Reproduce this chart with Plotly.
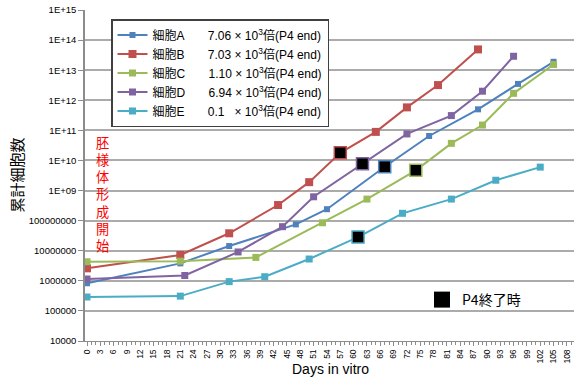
import plotly.graph_objects as go

# ---- data ----
series_names = ["細胞A", "細胞B", "細胞C", "細胞D", "細胞E"]
ratio_labels = ["7.06 × 10<sup>3</sup>倍(P4 end)",
                "7.03 × 10<sup>3</sup>倍(P4 end)",
                "1.10 × 10<sup>3</sup>倍(P4 end)",
                "6.94 × 10<sup>3</sup>倍(P4 end)",
                "0.1\u00a0\u00a0 × 10<sup>3</sup>倍(P4 end)"]

days_A = [0, 21, 32, 47, 54, 67, 77, 88, 97, 105]
vals_A = [8.3e5, 3.8e6, 1.43e7, 7.5e7, 2.4e8, 6.2e9, 6.5e10, 5.0e11, 3.5e12, 1.9e13]
days_B = [0, 21, 32, 43, 50, 57, 65, 72, 79, 88]
vals_B = [2.6e6, 7.2e6, 3.8e7, 3.3e8, 1.9e9, 1.8e10, 8.9e10, 5.8e11, 3.2e12, 4.9e13]
days_C = [0, 21, 38, 53, 63, 74, 82, 89, 96, 105]
vals_C = [4.3e6, 4.5e6, 6.0e6, 8.5e7, 5.2e8, 4.7e9, 3.7e10, 1.5e11, 1.7e12, 1.55e13]
days_D = [0, 22, 34, 44, 51, 62, 72, 82, 89, 96]
vals_D = [1.15e6, 1.5e6, 9.1e6, 6.3e7, 6.2e8, 7.8e9, 7.6e10, 3.1e11, 2.0e12, 2.9e13]
days_E = [0, 21, 32, 40, 50, 61, 71, 82, 92, 102]
vals_E = [2.9e5, 3.1e5, 9.4e5, 1.37e6, 5.3e6, 2.85e7, 1.75e8, 5.2e8, 2.2e9, 6.0e9]

# index of the P4-end point in each series
p4_index = [5, 5, 5, 5, 5]
p4_label = "P4終了時"

y_tickvals = [1e4, 1e5, 1e6, 1e7, 1e8, 1e9, 1e10, 1e11, 1e12, 1e13, 1e14, 1e15]
y_ticktext = ["10000", "100000", "1000000", "10000000", "100000000",
              "1E+09", "1E+10", "1E+11", "1E+12", "1E+13", "1E+14", "1E+15"]
x_tickvals = list(range(0, 109, 3))
x_ticktext = [str(v) for v in x_tickvals]

annotation_text = "胚様体形成開始"
x_title = "Days in vitro"
y_title = "累計細胞数"

# ---- styles ----
colors = ["#4F81BD", "#C0504D", "#9BBB59", "#8064A2", "#4BACC6"]
msizes = [6, 8, 7, 7, 7]
FONT = "Liberation Sans, Arial, Noto Sans CJK JP, sans-serif"
JFONT = "Noto Sans CJK JP, sans-serif"

all_days = [days_A, days_B, days_C, days_D, days_E]
all_vals = [vals_A, vals_B, vals_C, vals_D, vals_E]

fig = go.Figure()
for name, lab, d, v, c, ms in zip(series_names, ratio_labels, all_days, all_vals, colors, msizes):
    fig.add_trace(go.Scatter(
        x=d, y=v, mode="lines+markers",
        name=name + "\u00a0" * 7 + lab,
        line=dict(color=c, width=2),
        marker=dict(symbol="square", size=ms, color=c),
    ))

# P4 end markers
p4x = [d[i] for d, i in zip(all_days, p4_index)]
p4y = [v[i] for v, i in zip(all_vals, p4_index)]
fig.add_trace(go.Scatter(
    x=p4x, y=p4y, mode="markers", showlegend=False,
    marker=dict(symbol="square", size=12, color="black",
                line=dict(color=colors, width=1.5)),
))
# legend entry for P4 end
fig.add_trace(go.Scatter(
    x=[None], y=[None], mode="markers", name=p4_label, legend="legend2",
    marker=dict(symbol="square", size=17, color="black"),
))

L, R, T, B = 85, 1, 10, 38
W, H = 575, 379
pw, ph = W - L - R, H - T - B

def px2paper(xp, yp):
    return (xp - L) / pw, (H - B - yp) / ph

# vertical red annotation (one character per line)
ax, ay = px2paper(102.5, 193.5)
fig.add_annotation(x=ax, y=ay, xref="paper", yref="paper",
                   text="<br>".join(list(annotation_text)),
                   showarrow=False, font=dict(family=JFONT, size=13.2, color="red"),
                   xanchor="center", yanchor="middle", align="center")

# axis titles
tx, ty = px2paper(16, 175.5)
fig.add_annotation(x=tx, y=ty, xref="paper", yref="paper", text=y_title,
                   textangle=-90, showarrow=False,
                   font=dict(family=JFONT, size=15, color="black"),
                   xanchor="center", yanchor="middle")
tx, ty = px2paper(330, 369)
fig.add_annotation(x=tx, y=ty, xref="paper", yref="paper", text=x_title,
                   showarrow=False, font=dict(family=FONT, size=14, color="black"),
                   xanchor="center", yanchor="middle")

lx, ly = px2paper(111, 19)
l2x, l2y = px2paper(422, 300)

fig.update_layout(
    width=W, height=H,
    margin=dict(l=L, r=R, t=T, b=B),
    paper_bgcolor="white", plot_bgcolor="white",
    font=dict(family=FONT, color="black"),
    showlegend=True,
    legend=dict(x=lx, y=ly, xanchor="left", yanchor="top",
                bordercolor="#404040", borderwidth=1.5, bgcolor="white",
                font=dict(family=FONT, size=12), tracegroupgap=0),
    legend2=dict(x=l2x, y=l2y, xanchor="left", yanchor="middle",
                 bgcolor="rgba(0,0,0,0)", borderwidth=0,
                 font=dict(family=JFONT, size=14)),
    xaxis=dict(range=[-0.45, 109.6], tickmode="array", tickvals=x_tickvals,
               ticktext=x_ticktext, tickangle=-90, tickfont=dict(size=8.5),
               ticks="outside", ticklen=4, tickcolor="#8c8c8c",
               minor=dict(dtick=1, ticks="outside", ticklen=3, tickcolor="#8c8c8c", showgrid=False),
               showgrid=False, zeroline=False, automargin=False,
               showline=True, linecolor="#8c8c8c", linewidth=1),
    yaxis=dict(type="log", range=[4, 15], tickmode="array", tickvals=y_tickvals,
               ticktext=y_ticktext, tickfont=dict(size=9.5),
               ticks="outside", ticklen=5, tickcolor="#8c8c8c", automargin=False,
               showgrid=True, gridcolor="#ababab", gridwidth=1.5,
               showline=True, linecolor="#8c8c8c", linewidth=1.5, zeroline=False),
)

fig.write_html("out.html", config={"displayModeBar": False},
               post_script="document.body.style.margin='0';document.body.style.overflow='hidden';")
